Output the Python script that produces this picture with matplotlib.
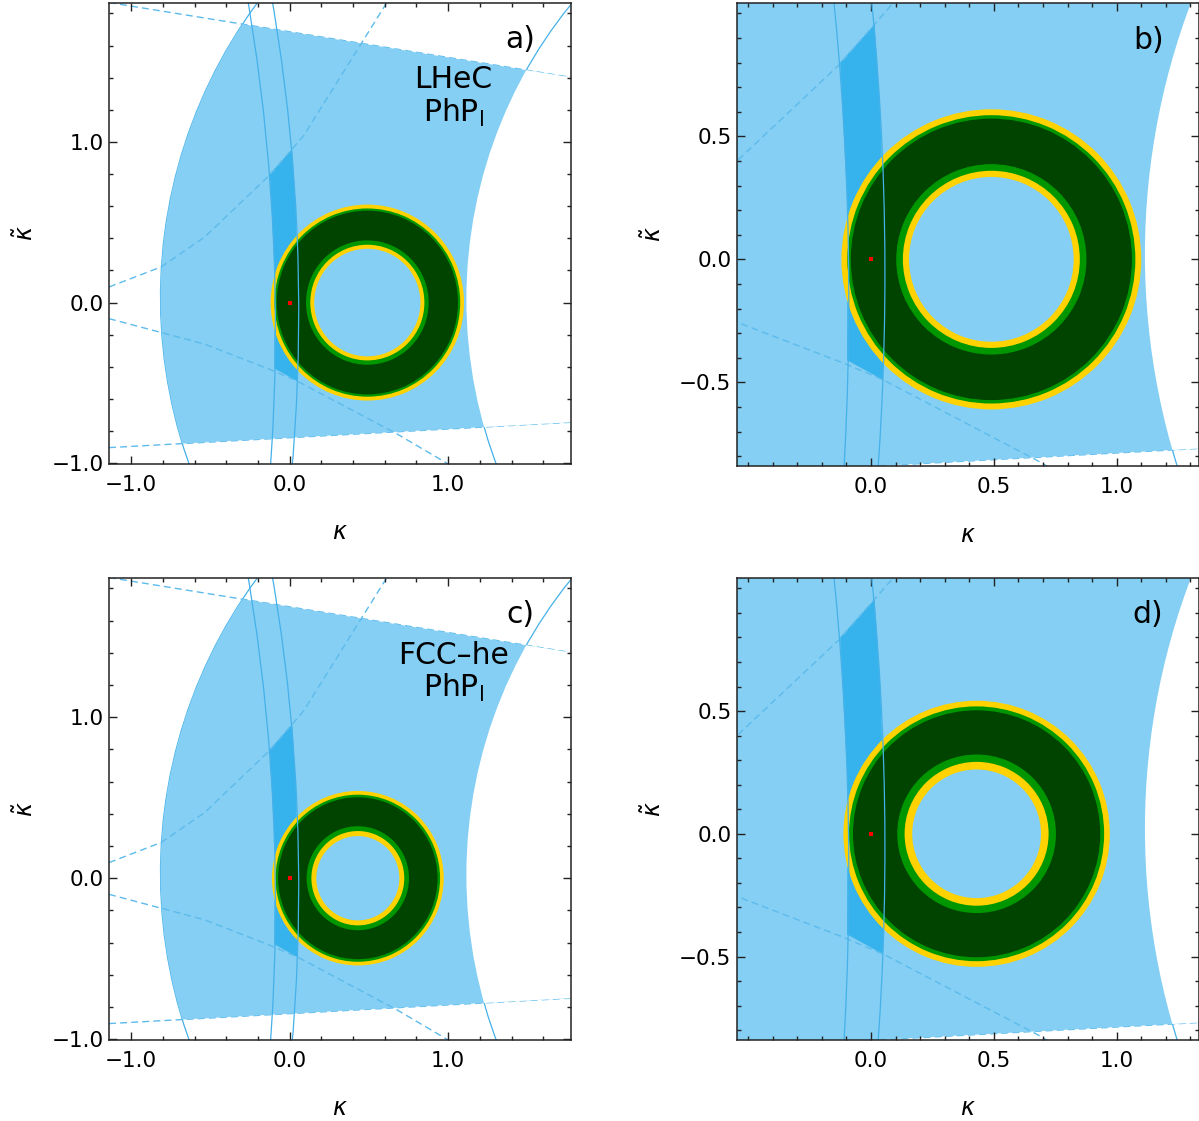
#!/usr/bin/env python3

import matplotlib
matplotlib.use("Agg")
import matplotlib.pyplot as plt
from matplotlib.patches import Polygon, Circle, Arc, Wedge
from matplotlib.ticker import MultipleLocator, FixedLocator, FuncFormatter

# colours
REGION_BLUE = "#84CFF3"
STRIP_BLUE = "#36B3EC"
LINE_BLUE = "#45B1EA"
DASH_BLUE = "#5DBBEC"
YELLOW = "#FFD200"
GREEN = "#009600"
DARK_GREEN = "#004400"

# allowed region: two straight edges and two circle arcs (centre x, centre y, radius)
top_edge_x = [-1.14, 1.775]
top_edge_y = [1.868, 1.402]
bottom_edge_x = [-1.14, 1.775]
bottom_edge_y = [-0.903, -0.745]
left_arc = (2.25, 0.03, 3.065)
right_arc = (4.00, 0.02, 2.885)

# the two thin solid curves near kappa = 0
inner_arcs = [(-12.14, -0.16, 12.05), (-11.23, -0.056, 11.287)]

# dashed curves
upper_curve_x = [-1.14, -0.811, -0.538, -0.129, 0.087, 0.611]
upper_curve_y = [0.097, 0.222, 0.4065, 0.791, 1.038, 1.864]
lower_curve_x = [-1.14, -0.538, -0.116, 0.05, 0.674, 1.0]
lower_curve_y = [-0.10, -0.258, -0.42, -0.49, -0.816, -1.005]

# darker overlap strip
strip_x = [-0.125, -0.095, -0.097, 0.049, 0.057, 0.038, 0.015]
strip_y = [0.80, 0.2, -0.41, -0.49, 0.0, 0.6, 0.955]

# rings: centre, radii from outside (yellow | green | dark green | green | yellow | hole)
lhec_centre = (0.49, 0.0)
lhec_radii = [0.61, 0.586, 0.572, 0.387, 0.36, 0.335]
fcc_centre = (0.43, 0.0)
fcc_radii = [0.542, 0.519, 0.503, 0.323, 0.293, 0.262]

sm_point = (0.0, 0.0)

wide_xlim = (-1.14, 1.775)
wide_ylim = (-1.005, 1.865)
wide_xmajor = [-1.0, 0.0, 1.0]
wide_ymajor = [-1.0, 0.0, 1.0]
zoom_xlim = (-0.545, 1.335)
zoom_ylim = (-0.84, 1.042)
zoom_xmajor = [0.0, 0.5, 1.0]
zoom_ymajor = [-0.5, 0.0, 0.5]

W, H = 1199, 1121


def fmt(v, pos):
    return f"{v:.1f}".replace("-", "\u2212")


def quad(ax, **kw):
    pts = list(zip(top_edge_x, top_edge_y)) + list(zip(bottom_edge_x[::-1], bottom_edge_y[::-1]))
    return Polygon(pts, closed=True, transform=ax.transData, **kw)


def draw_panel(ax, xlim, ylim, xmajor, ymajor, minor, centre, radii, letter, names):
    # circle arcs sit under the filled region, so only the parts outside it show
    for cx, cy, r in (left_arc, right_arc):
        ax.add_patch(Arc((cx, cy), 2 * r, 2 * r, theta1=130, theta2=215,
                         color=LINE_BLUE, lw=0.9, zorder=0.9))
    dash = dict(color=DASH_BLUE, lw=1.0, ls=(0, (5, 3)))
    ax.plot(top_edge_x, top_edge_y, zorder=0.95, **dash)
    ax.plot(bottom_edge_x, bottom_edge_y, zorder=0.95, **dash)

    region = quad(ax, facecolor=REGION_BLUE, edgecolor="none", zorder=1)
    ax.add_patch(region)
    region.set_clip_path(Circle(left_arc[:2], left_arc[2], transform=ax.transData))
    cut = Circle(right_arc[:2], right_arc[2], facecolor="white", edgecolor="none", zorder=1.1)
    ax.add_patch(cut)
    cut.set_clip_path(quad(ax))

    ax.add_patch(Polygon(list(zip(strip_x, strip_y)), closed=True,
                         facecolor=STRIP_BLUE, edgecolor="none", zorder=1.2))

    ax.plot(upper_curve_x, upper_curve_y, zorder=1.5, **dash)
    ax.plot(lower_curve_x, lower_curve_y, zorder=1.5, **dash)

    # rings
    ax.add_patch(Wedge(centre, radii[0], 0, 360, width=radii[0] - radii[5],
                       facecolor=YELLOW, edgecolor="none", zorder=2))
    ax.add_patch(Wedge(centre, radii[1], 0, 360, width=radii[1] - radii[4],
                       facecolor=GREEN, edgecolor="none", zorder=2.05))
    ax.add_patch(Wedge(centre, radii[2], 0, 360, width=radii[2] - radii[3],
                       facecolor=DARK_GREEN, edgecolor="none", zorder=2.1))

    for cx, cy, r in inner_arcs:
        ax.add_patch(Arc((cx, cy), 2 * r, 2 * r, theta1=-10, theta2=15,
                         color=LINE_BLUE, lw=0.9, zorder=2.2))

    ax.plot([sm_point[0]], [sm_point[1]], marker="s", ms=2.6, mew=0,
            color="red", zorder=3)

    ax.set_xlim(*xlim)
    ax.set_ylim(*ylim)
    ax.xaxis.set_major_locator(FixedLocator(xmajor))
    ax.yaxis.set_major_locator(FixedLocator(ymajor))
    ax.xaxis.set_minor_locator(MultipleLocator(minor))
    ax.yaxis.set_minor_locator(MultipleLocator(minor))
    ax.xaxis.set_major_formatter(FuncFormatter(fmt))
    ax.yaxis.set_major_formatter(FuncFormatter(fmt))
    ax.tick_params(which="both", direction="in", top=True, right=True,
                   labelsize=15.5, width=1.0, color="#222222")
    ax.tick_params(which="major", length=5.5)
    ax.tick_params(which="minor", length=3)
    ax.tick_params(axis="x", pad=8)
    ax.tick_params(axis="y", pad=4)
    for s in ax.spines.values():
        s.set_linewidth(1.1)
        s.set_color("#222222")

    ax.text(0.5, -0.148, r"$\kappa$", transform=ax.transAxes, fontsize=17,
            ha="center", va="center")
    ax.text(-0.18, 0.5, r"$\tilde{\kappa}$", transform=ax.transAxes, fontsize=17,
            ha="center", va="center", rotation=90)

    ax.text(0.89, 0.92, letter, transform=ax.transAxes, fontsize=21.5,
            ha="center", va="center", zorder=4)
    if names:
        ax.text(0.745, 0.833, names[0], transform=ax.transAxes, fontsize=21.5,
                ha="center", va="center", zorder=4)
        ax.text(0.745, 0.762, names[1], transform=ax.transAxes, fontsize=21.5,
                ha="center", va="center", zorder=4)


fig = plt.figure(figsize=(W / 100, H / 100), dpi=100)


def box(left, top, right, bottom):
    return [left / W, 1 - bottom / H, (right - left) / W, (bottom - top) / H]


ax_a = fig.add_axes(box(109, 3, 571, 464))
ax_b = fig.add_axes(box(737, 3, 1199, 466))
ax_c = fig.add_axes(box(109, 578, 571, 1040))
ax_d = fig.add_axes(box(737, 578, 1199, 1040))

draw_panel(ax_a, wide_xlim, wide_ylim, wide_xmajor, wide_ymajor, 0.2,
           lhec_centre, lhec_radii, "a)", ("LHeC", r"PhP$_\mathrm{l}$"))
draw_panel(ax_b, zoom_xlim, zoom_ylim, zoom_xmajor, zoom_ymajor, 0.1,
           lhec_centre, lhec_radii, "b)", None)
draw_panel(ax_c, wide_xlim, wide_ylim, wide_xmajor, wide_ymajor, 0.2,
           fcc_centre, fcc_radii, "c)", ("FCC\u2013he", r"PhP$_\mathrm{l}$"))
draw_panel(ax_d, zoom_xlim, zoom_ylim, zoom_xmajor, zoom_ymajor, 0.1,
           fcc_centre, fcc_radii, "d)", None)

fig.savefig("out.png", dpi=100)
